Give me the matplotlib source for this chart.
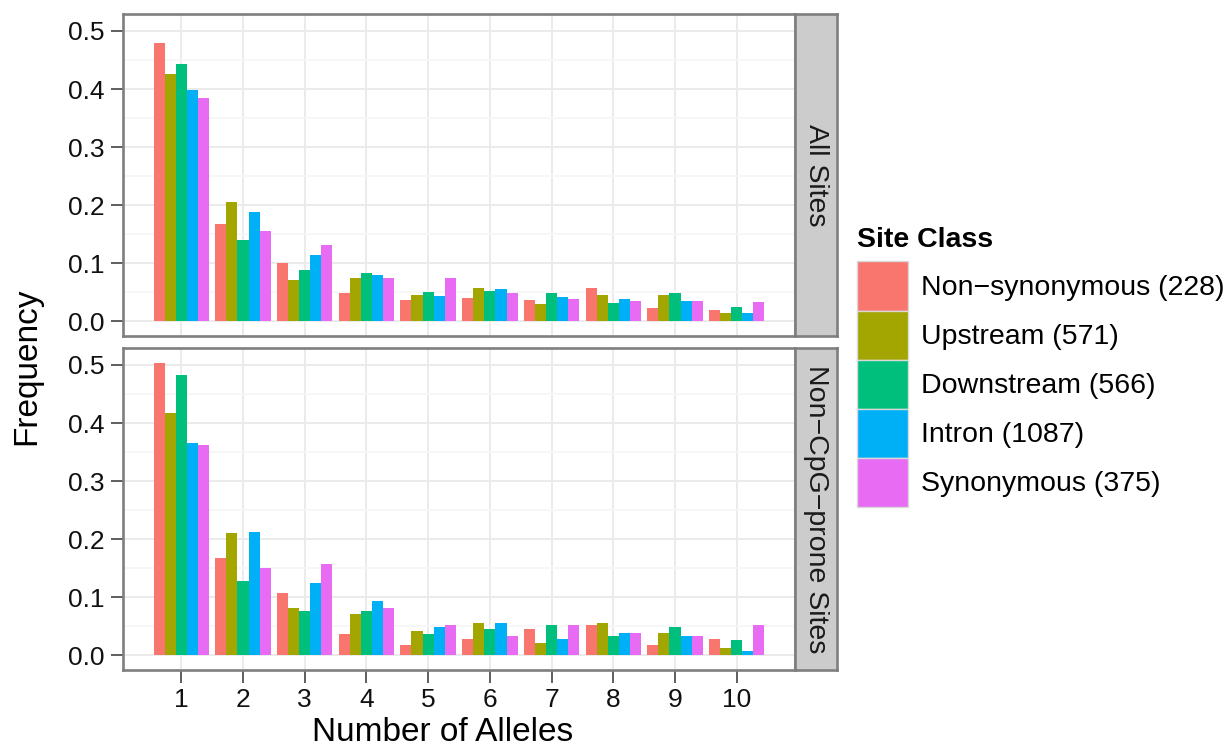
import matplotlib
matplotlib.use("Agg")
import matplotlib.pyplot as plt
from matplotlib.patches import Patch
from matplotlib.ticker import MultipleLocator, NullLocator
import numpy as np

# Allele-count frequency spectra per site class, two facets
alleles = [1, 2, 3, 4, 5, 6, 7, 8, 9, 10]
site_classes = ["Non\u2212synonymous (228)", "Upstream (571)", "Downstream (566)",
                "Intron (1087)", "Synonymous (375)"]
class_colors = ["#F8766D", "#A3A500", "#00BF7D", "#00B0F6", "#E76BF3"]
facet_names = ["All Sites", "Non\u2212CpG\u2212prone Sites"]

all_nonsyn = [0.479, 0.167, 0.101, 0.049, 0.037, 0.040, 0.037, 0.058, 0.023, 0.019]
all_upstream = [0.426, 0.205, 0.071, 0.075, 0.046, 0.058, 0.030, 0.046, 0.046, 0.014]
all_downstream = [0.443, 0.140, 0.089, 0.084, 0.051, 0.053, 0.049, 0.031, 0.049, 0.025]
all_intron = [0.398, 0.189, 0.114, 0.079, 0.044, 0.056, 0.042, 0.038, 0.035, 0.014]
all_synonymous = [0.385, 0.155, 0.131, 0.074, 0.074, 0.049, 0.038, 0.035, 0.035, 0.033]

cpg_nonsyn = [0.504, 0.168, 0.107, 0.036, 0.018, 0.028, 0.045, 0.053, 0.018, 0.028]
cpg_upstream = [0.417, 0.210, 0.082, 0.072, 0.042, 0.055, 0.022, 0.055, 0.039, 0.012]
cpg_downstream = [0.482, 0.128, 0.077, 0.077, 0.037, 0.045, 0.052, 0.034, 0.048, 0.026]
cpg_intron = [0.365, 0.213, 0.124, 0.093, 0.048, 0.055, 0.029, 0.039, 0.034, 0.008]
cpg_synonymous = [0.363, 0.151, 0.157, 0.082, 0.052, 0.033, 0.052, 0.038, 0.033, 0.052]

facet_values = [
    [all_nonsyn, all_upstream, all_downstream, all_intron, all_synonymous],
    [cpg_nonsyn, cpg_upstream, cpg_downstream, cpg_intron, cpg_synonymous],
]

plt.rcParams['font.family'] = ['Liberation Sans', 'DejaVu Sans']

W, H = 1226, 749
fig = plt.figure(figsize=(W / 100, H / 100), dpi=100)


def box(x0, y0, x1, y1):
    # pixel box (top-left origin) -> figure fraction rect
    return [x0 / W, 1 - y1 / H, (x1 - x0) / W, (y1 - y0) / H]


panel_rows = [(14, 336), (348, 670)]
border = '#7F7F7F'
bar_w = 0.18
x = np.array(alleles, dtype=float)

for row, (top, bottom) in enumerate(panel_rows):
    ax = fig.add_axes(box(123, top, 795, bottom))
    for i, vals in enumerate(facet_values[row]):
        ax.bar(x + (i - 2) * bar_w, vals, width=bar_w, color=class_colors[i],
               linewidth=0, zorder=2)
    ax.set_xlim(0.055, 10.945)
    ax.set_ylim(-0.0252, 0.5292)
    ax.yaxis.set_major_locator(MultipleLocator(0.1))
    ax.yaxis.set_minor_locator(MultipleLocator(0.05))
    ax.set_xticks(alleles)
    ax.xaxis.set_minor_locator(NullLocator())
    ax.set_yticklabels([f"{v:.1f}" for v in ax.get_yticks()])
    ax.grid(which='major', color='#EBEBEB', linewidth=1.4, zorder=0)
    ax.grid(which='minor', axis='y', color='#F7F7F7', linewidth=1.4, zorder=0)
    ax.set_axisbelow(True)
    for s in ax.spines.values():
        s.set_color(border)
        s.set_linewidth(1.9)
        s.set_zorder(3)
    ax.tick_params(which='major', length=9, width=1.1, color='#333333',
                   labelsize=19, labelcolor='#111111', pad=4)
    ax.tick_params(which='minor', length=0)
    if row == 0:
        ax.tick_params(axis='x', which='both', bottom=False, labelbottom=False)
    else:
        ax.set_xticklabels([str(a) for a in alleles])

    # facet strip on the right
    strip = fig.add_axes(box(795, top, 837, bottom))
    strip.set_facecolor('#CCCCCC')
    strip.set_xticks([])
    strip.set_yticks([])
    for s in strip.spines.values():
        s.set_color(border)
        s.set_linewidth(1.9)
    strip.text(0.5, 0.5, facet_names[row], rotation=-90, ha='center', va='center',
               fontsize=20.5, color='#1A1A1A', transform=strip.transAxes)

fig.text(27 / W, 1 - 366 / H, 'Frequency', rotation=90, ha='center', va='center',
         fontsize=24, color='black')
fig.text(443 / W, 1 - 748 / H, 'Number of Alleles', ha='center', va='bottom',
         fontsize=24, color='black')

handles = [Patch(facecolor=c, edgecolor='#D9D9D9', linewidth=1) for c in class_colors]
leg = fig.legend(handles, site_classes, loc='upper left',
                 bbox_to_anchor=(857 / W, 1 - 227 / H), frameon=False,
                 fontsize=20.5, title='Site Class',
                 title_fontproperties={'weight': 'bold', 'size': 20.5},
                 handlelength=1.8, handleheight=2.28, labelspacing=0.0,
                 handletextpad=0.45, borderpad=0, borderaxespad=0)
leg._legend_box.align = 'left'
leg._legend_box.sep = 6  # gap between title and keys

fig.savefig('out.png', dpi=100)
